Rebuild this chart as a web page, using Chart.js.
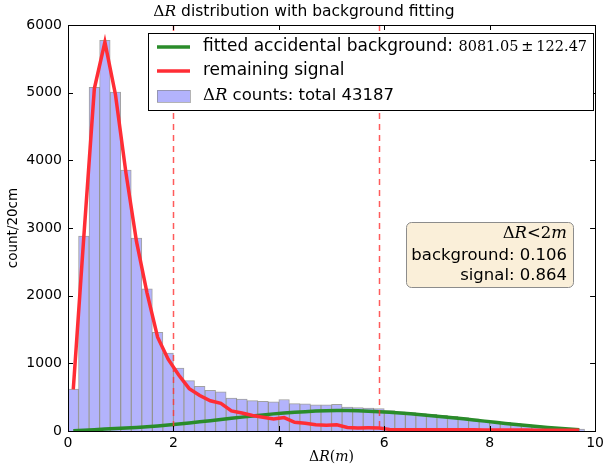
<!DOCTYPE html>
<html>
<head>
<meta charset="utf-8">
<script src="https://cdn.jsdelivr.net/npm/chart.js@4.4.1/dist/chart.umd.min.js"></script>
<style>
  body { margin: 0; background: #fff; }
  #wrap { width: 608px; height: 465px; }
</style>
</head>
<body>
<div id="wrap"><canvas id="chart" width="608" height="465"></canvas></div>
<script>
// bin centres (20cm bins), histogram counts, fitted background and remaining signal
var binCenters = [0.1,0.3,0.5,0.7,0.9,1.1,1.3,1.5,1.7,1.9,2.1,2.3,2.5,2.7,2.9,3.1,3.3,3.5,3.7,3.9,
                  4.1,4.3,4.5,4.7,4.9,5.1,5.3,5.5,5.7,5.9,6.1,6.3,6.5,6.7,6.9,7.1,7.3,7.5,7.7,7.9,
                  8.1,8.3,8.5,8.7,8.9,9.1,9.3,9.5,9.7];
var counts = [620,2880,5080,5775,5010,3855,2850,2100,1460,1150,930,745,660,600,580,485,470,450,440,430,
              465,405,400,385,385,395,355,345,340,330,300,285,272,258,245,230,215,198,180,162,
              145,127,110,93,77,63,50,40,30];
var background = [5,12,20,28,36,44,52,62,74,88,103,119,136,153,170,188,205,222,238,253,
                  266,277,286,294,299,302,302,299,293,285,276,266,254,241,227,212,196,180,163,146,
                  129,112,96,80,65,52,40,29,19];
var signal = [615,2868,5060,5747,4974,3811,2798,2038,1386,1062,827,626,524,447,410,297,265,228,202,177,
              199,128,114,91,86,93,53,46,47,45,24,19,18,17,18,18,19,18,17,16,
              16,15,14,13,12,11,10,11,11];
var xTicks = [0,2,4,6,8,10];
var yTicks = [0,1000,2000,3000,4000,5000,6000];
var cutLines = [2, 5.9];

var SANS = '"DejaVu Sans", sans-serif';
var SERIF = '"DejaVu Serif", serif';

// draw a line of mixed-font text, parts = [[text, font], ...]
function richText(ctx, parts, x, y, align) {
  var total = 0;
  parts.forEach(function(p){ ctx.font = p[1]; total += ctx.measureText(p[0]).width; });
  var cx = align == 'right' ? x - total : (align == 'center' ? x - total / 2 : x);
  ctx.textBaseline = 'middle';
  ctx.textAlign = 'left';
  parts.forEach(function(p){
    ctx.font = p[1];
    ctx.fillText(p[0], cx, y);
    cx += ctx.measureText(p[0]).width;
  });
}

var overlay = {
  id: 'overlay',
  afterDatasetsDraw: function(chart) {
    var ctx = chart.ctx, a = chart.chartArea;
    var x = chart.scales.x, y = chart.scales.y;
    ctx.save();

    // dashed cut lines
    ctx.strokeStyle = 'rgba(255,50,50,0.8)';
    ctx.lineWidth = 1.5;
    ctx.setLineDash([6, 5]);
    cutLines.forEach(function(v){
      var px = Math.round(x.getPixelForValue(v)) + 0.5;
      ctx.beginPath(); ctx.moveTo(px, a.top); ctx.lineTo(px, a.bottom); ctx.stroke();
    });
    ctx.setLineDash([]);

    // frame + inward ticks
    ctx.strokeStyle = '#000';
    ctx.lineWidth = 1;
    ctx.strokeRect(Math.round(a.left) + 0.5, Math.round(a.top) + 0.5, Math.round(a.right - a.left), Math.round(a.bottom - a.top));
    ctx.beginPath();
    xTicks.forEach(function(v){
      var px = Math.round(x.getPixelForValue(v)) + 0.5;
      ctx.moveTo(px, a.bottom); ctx.lineTo(px, a.bottom - 5);
      ctx.moveTo(px, a.top); ctx.lineTo(px, a.top + 5);
    });
    yTicks.forEach(function(v){
      var py = Math.round(y.getPixelForValue(v)) + 0.5;
      ctx.moveTo(a.left, py); ctx.lineTo(a.left + 5, py);
      ctx.moveTo(a.right, py); ctx.lineTo(a.right - 5, py);
    });
    ctx.stroke();

    // title (centred on the figure) and x label
    ctx.fillStyle = '#000';
    richText(ctx, [['\u0394', '15.5px ' + SERIF], ['R', 'italic 15.5px ' + SERIF],
                   [' distribution with background fitting', '15.5px ' + SANS]], chart.width / 2, 12, 'center');
    richText(ctx, [['\u0394', '14px ' + SERIF], ['R', 'italic 14px ' + SERIF], ['(', '14px ' + SERIF],
                   ['m', 'italic 14px ' + SERIF], [')', '14px ' + SERIF]], (a.left + a.right) / 2, 457, 'center');

    // legend
    ctx.fillStyle = '#fff';
    ctx.fillRect(148.5, 33.5, 445, 77);
    ctx.strokeStyle = '#000';
    ctx.strokeRect(148.5, 33.5, 445, 77);
    ctx.lineWidth = 3.5;
    ctx.strokeStyle = '#2a8c2a';
    ctx.beginPath(); ctx.moveTo(157, 47); ctx.lineTo(190, 47); ctx.stroke();
    ctx.strokeStyle = '#ff2d35';
    ctx.beginPath(); ctx.moveTo(157, 71); ctx.lineTo(190, 71); ctx.stroke();
    ctx.lineWidth = 1;
    ctx.fillStyle = 'rgb(179,179,252)';
    ctx.fillRect(157, 90, 33, 12);
    ctx.strokeStyle = 'rgba(130,130,130,0.6)';
    ctx.strokeRect(157.5, 90.5, 33, 12);
    ctx.fillStyle = '#000';
    richText(ctx, [['fitted accidental background: ', '17px ' + SANS], ['8081.05\u2009\u00b1\u2009122.47', '14.5px ' + SERIF]], 203, 47, 'left');
    richText(ctx, [['remaining signal', '17px ' + SANS]], 203, 71, 'left');
    richText(ctx, [['\u0394', '16.5px ' + SERIF], ['R', 'italic 16.5px ' + SERIF], [' counts: total 43187', '16.5px ' + SANS]], 203, 96, 'left');

    // stats box
    ctx.fillStyle = 'rgb(250,239,217)';
    ctx.strokeStyle = '#8c8c8c';
    ctx.beginPath();
    ctx.roundRect(406.5, 222.5, 167, 65, 5);
    ctx.fill(); ctx.stroke();
    ctx.fillStyle = '#000';
    richText(ctx, [['\u0394', '16.5px ' + SERIF], ['R', 'italic 16.5px ' + SERIF], ['<', '16.5px ' + SERIF],
                   ['2', '16.5px ' + SERIF], ['m', 'italic 16.5px ' + SERIF]], 567, 234, 'right');
    richText(ctx, [['background: 0.106', '16.5px ' + SANS]], 567, 256, 'right');
    richText(ctx, [['signal: 0.864', '16.5px ' + SANS]], 567, 276, 'right');

    ctx.restore();
  }
};

function pts(ys) {
  return binCenters.map(function(c, i){ return {x: c, y: ys[i]}; });
}

new Chart(document.getElementById('chart'), {
  type: 'bar',
  data: {
    datasets: [
      {
        type: 'line',
        label: 'remaining signal',
        data: pts(signal),
        borderColor: '#ff2d35',
        borderWidth: 3.5,
        pointRadius: 0,
        tension: 0,
        order: 0
      },
      {
        type: 'line',
        label: 'fitted accidental background',
        data: pts(background),
        borderColor: '#2a8c2a',
        borderWidth: 3.5,
        pointRadius: 0,
        tension: 0,
        order: 1
      },
      {
        label: 'counts',
        data: pts(counts),
        backgroundColor: 'rgb(179,179,252)',
        borderColor: 'rgba(110,110,110,0.65)',
        borderWidth: 1,
        barPercentage: 1,
        categoryPercentage: 1,
        order: 2
      }
    ]
  },
  options: {
    responsive: false,
    animation: false,
    layout: { padding: { left: 0, right: 11, top: 25, bottom: 0 } },
    plugins: { legend: { display: false }, tooltip: { enabled: false }, title: { display: false } },
    scales: {
      x: {
        type: 'linear',
        min: 0, max: 10,
        offset: false,
        grid: { display: false, drawTicks: false },
        border: { display: false },
        ticks: { stepSize: 2, padding: 4, color: '#000', font: { family: SANS, size: 14 }, maxRotation: 0,
                 callback: function(v){ return String(v); } },
        afterFit: function(s){ s.height = 34; }
      },
      y: {
        min: 0, max: 6000,
        grid: { display: false, drawTicks: false },
        border: { display: false },
        ticks: { stepSize: 1000, padding: 6, color: '#000', font: { family: SANS, size: 14 },
                 callback: function(v){ return String(v); } },
        title: { display: true, text: 'count/20cm', color: '#000', font: { family: SANS, size: 13.5 }, padding: { top: 5, bottom: 0 } },
        afterFit: function(s){ s.width = 68; }
      }
    }
  },
  plugins: [overlay]
});
</script>
</body>
</html>
